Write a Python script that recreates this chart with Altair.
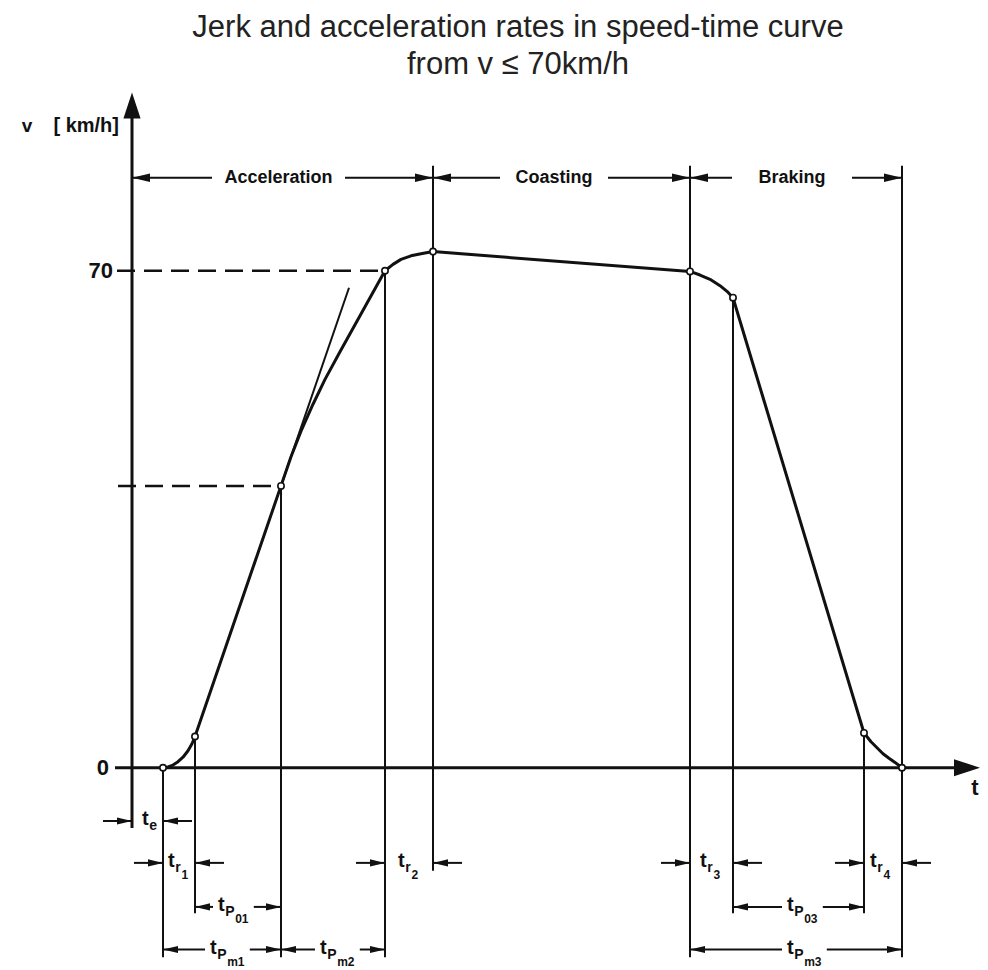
import altair as alt
import pandas as pd

# ------------------------------------------------------------------
# DATA  (time in arbitrary units, speed in km/h)
# ------------------------------------------------------------------
TITLE = ["Jerk and acceleration rates in speed-time curve", "from v \u2264 70km/h"]

# speed-time curve, points
curve_t = [3.1, 3.6, 4.1, 4.6, 5.1, 5.6, 6.0, 6.3,
           14.9, 15.9, 16.9, 18.1, 19.3, 20.8, 22.3, 23.8, 25.3,
           26.1, 26.9, 27.9, 28.9, 30.1,
           55.8, 56.8, 57.8, 58.8, 59.5, 60.1,
           73.2, 73.9, 74.5, 75.1, 75.7, 76.3, 77.0]
curve_v = [0.0, 0.11, 0.38, 0.85, 1.48, 2.39, 3.38, 4.4,
           39.7, 43.8, 47.4, 51.2, 54.7, 58.6, 62.4, 66.2, 70.0,
           70.9, 71.6, 72.1, 72.4, 72.7,
           69.9, 69.4, 68.8, 67.9, 67.1, 66.2,
           4.9, 3.66, 2.82, 1.97, 1.34, 0.75, 0.0]

# marked instants on the curve (small circles)
mark_t = [3.1, 6.3, 14.9, 25.3, 30.1, 55.8, 60.1, 73.2, 77.0]
mark_v = [0.0, 4.4, 39.7, 70.0, 72.7, 69.9, 66.2, 4.9, 0.0]

# tangent to the constant-acceleration part
tangent_t = [14.9, 21.7]
tangent_v = [39.7, 67.6]

# vertical extension lines: time, upper end, lower end
vert_t = [3.1, 6.3, 14.9, 25.3, 30.1, 55.8, 60.1, 73.2, 77.0]
vert_top = [0.0, 4.4, 39.7, 70.0, 84.8, 84.8, 66.2, 4.9, 84.8]
vert_bot = [-26.7, -20.5, -26.7, -26.7, -14.5, -26.7, -20.5, -20.5, -26.7]

# dashed reference speeds
ref_v = [70.0, 39.7]
ref_from = [-1.5, -1.4]
ref_to = [25.3, 14.9]

# y axis tick labels
tick_labels = ["70", "0"]
tick_v = [70.0, 0.0]

# levels (in speed units) of the dimension rows: top row, then rows below the axis
row_v = [83.1, -7.5, -13.4, -19.6, -25.6]

# phases shown on the top row
phase_names = ["Acceleration", "Coasting", "Braking"]
phase_start = [0.0, 30.1, 55.8]
phase_end = [30.1, 55.8, 77.0]
phase_gap_lo = [8.0, 36.8, 60.0]
phase_gap_hi = [21.3, 47.6, 72.0]

# time intervals below the axis: t_{sub_{subsub}}
iv_sub = ["e", "r", "r", "r", "r", "P", "P", "P", "P", "P"]
iv_subsub = ["", "1", "2", "3", "4", "01", "03", "m1", "m2", "m3"]
iv_start = [0.0, 3.1, 25.3, 55.8, 73.2, 6.3, 60.1, 3.1, 14.9, 55.8]
iv_end = [3.1, 6.3, 30.1, 60.1, 77.0, 14.9, 73.2, 14.9, 25.3, 77.0]
iv_row = [1, 2, 2, 2, 2, 3, 3, 4, 4, 4]
iv_kind = ["outer"] * 5 + ["inner"] * 5
iv_label = [1.0, 3.6, 26.6, 56.8, 73.8, 8.6, 65.5, 7.8, 18.8, 65.5]

# ------------------------------------------------------------------
# LAYOUT / STYLE
# ------------------------------------------------------------------
INK = "#111111"
FONT = "Liberation Sans"
T_MIN, T_MAX = -12.4, 84.8          # 972 px wide -> 10 px per time unit
PX_PER_V = 7.1
PAD_TOP = 4
PLOT_TOP = 84                       # page y of plot top (below the title)
PLOT_H = 962 - PLOT_TOP
V_MIN = -27.5
V_MAX = V_MIN + PLOT_H / PX_PER_V

ARROW = "M0,0L-1,-0.24L-1,0.24Z"
AXIS_ARROW = "M0,0L-1,-0.33L-1,0.33Z"

XS = alt.Scale(domain=[T_MIN, T_MAX], nice=False, zero=False)
YS = alt.Scale(domain=[V_MIN, V_MAX], nice=False, zero=False)


def X(f="t"):
    return alt.X(f"{f}:Q", scale=XS, axis=None)


def Y(f="v"):
    return alt.Y(f"{f}:Q", scale=YS, axis=None)


# ------------------------------------------------------------------
# derived tables
# ------------------------------------------------------------------
curve_df = pd.DataFrame({"t": curve_t, "v": curve_v})
marks_df = pd.DataFrame({"t": mark_t, "v": mark_v})

shade_rows = []
for seg, (a, b) in enumerate([(3.1, 6.3), (73.2, 77.0)]):
    for t, v in zip(curve_t, curve_v):
        if a <= t <= b:
            shade_rows.append({"t": t, "v": v, "z": 0.0, "seg": seg})
shade_df = pd.DataFrame(shade_rows)

vert_df = pd.DataFrame({"t": vert_t, "v": vert_top, "v2": vert_bot})
ref_df = pd.DataFrame({"t": ref_from, "t2": ref_to, "v": ref_v})
tan_df = pd.DataFrame({"t": [tangent_t[0]], "t2": [tangent_t[1]],
                       "v": [tangent_v[0]], "v2": [tangent_v[1]]})

axis_df = pd.DataFrame([
    {"t": 0.0, "t2": 0.0, "v": -8.5, "v2": 92.0},     # speed axis
    {"t": -1.7, "t2": 82.5, "v": 0.0, "v2": 0.0},     # time axis
])
axis_heads = pd.DataFrame([
    {"t": 0.0, "v": 95.1, "ang": 270},
    {"t": T_MAX, "v": 0.0, "ang": 0},
])

# glyph widths (time units) for subscript layout
W_T = 0.72
W_SUB = {"e": 0.8, "r": 0.58, "P": 0.95}
W_SS = {"0": 0.68, "1": 0.68, "2": 0.68, "3": 0.68, "4": 0.68, "m": 1.08}
EXT = 2.9

segs, heads, base_lab, sub_lab, ss_lab = [], [], [], [], []
for sub, ss, s, e, r, kind, lab in zip(iv_sub, iv_subsub, iv_start, iv_end,
                                       iv_row, iv_kind, iv_label):
    y = row_v[r]
    sub_t = lab + W_T
    ss_t = sub_t + W_SUB[sub] + 0.05
    end_t = ss_t + sum(W_SS[c] for c in ss)
    base_lab.append({"t": lab, "v": y, "txt": "t"})
    sub_lab.append({"t": sub_t, "v": y, "txt": sub})
    if ss:
        ss_lab.append({"t": ss_t, "v": y, "txt": ss})
    if kind == "outer":
        segs += [{"t": s - EXT, "t2": s, "v": y}, {"t": e + EXT, "t2": e, "v": y}]
        heads += [{"t": s, "v": y, "ang": 0}, {"t": e, "v": y, "ang": 180}]
    else:
        segs += [{"t": s, "t2": lab - 0.5, "v": y}, {"t": end_t + 0.5, "t2": e, "v": y}]
        heads += [{"t": s, "v": y, "ang": 180}, {"t": e, "v": y, "ang": 0}]

top_segs, top_heads, phase_lab = [], [], []
for n, s, e, lo, hi in zip(phase_names, phase_start, phase_end, phase_gap_lo, phase_gap_hi):
    y = row_v[0]
    top_segs += [{"t": s, "t2": lo, "v": y}, {"t": hi, "t2": e, "v": y}]
    top_heads += [{"t": s, "v": y, "ang": 180}, {"t": e, "v": y, "ang": 0}]
    phase_lab.append({"t": (lo + hi) / 2, "v": y, "txt": n})

segs_df = pd.DataFrame(segs + top_segs)
heads_df = pd.DataFrame(heads)
top_heads_df = pd.DataFrame(top_heads)
phase_df = pd.DataFrame(phase_lab)
base_df = pd.DataFrame(base_lab)
sub_df = pd.DataFrame(sub_lab)
ss_df = pd.DataFrame(ss_lab)
ticks_df = pd.DataFrame({"t": [-1.9, -2.3], "v": tick_v, "txt": tick_labels})
ylab_df = pd.DataFrame({"t": [-10.5], "v": [90.4], "txt": ["v"]})
yunit_df = pd.DataFrame({"t": [-1.3], "v": [90.4], "txt": ["[ km/h]"]})
tlab_df = pd.DataFrame({"t": [84.3], "v": [-2.8], "txt": ["t"]})

# ------------------------------------------------------------------
# LAYERS
# ------------------------------------------------------------------
shade = alt.Chart(shade_df).mark_area(color="#ebebeb").encode(
    x=X(), y=Y(), y2="z:Q", detail="seg:N", order="t:Q")

verticals = alt.Chart(vert_df).mark_rule(color=INK, strokeWidth=2).encode(
    x=X(), y=Y(), y2="v2:Q")

refs = alt.Chart(ref_df).mark_rule(color=INK, strokeWidth=2.5, strokeDash=[18, 9]).encode(
    x=X(), x2="t2:Q", y=Y())

axes = alt.Chart(axis_df).mark_rule(color=INK, strokeWidth=3).encode(
    x=X(), x2="t2:Q", y=Y(), y2="v2:Q")

curve = alt.Chart(curve_df).mark_line(color=INK, strokeWidth=3, strokeJoin="round").encode(
    x=X(), y=Y(), order="t:Q")

tangent = alt.Chart(tan_df).mark_rule(color=INK, strokeWidth=2).encode(
    x=X(), x2="t2:Q", y=Y(), y2="v2:Q")

dims = alt.Chart(segs_df).mark_rule(color=INK, strokeWidth=2).encode(
    x=X(), x2="t2:Q", y=Y())

small_heads = alt.Chart(heads_df).mark_point(
    shape=ARROW, size=900, filled=True, opacity=1, color=INK, strokeWidth=0).encode(
    x=X(), y=Y(), angle=alt.Angle("ang:Q", scale=None))

big_heads = alt.Chart(top_heads_df).mark_point(
    shape=ARROW, size=1296, filled=True, opacity=1, color=INK, strokeWidth=0).encode(
    x=X(), y=Y(), angle=alt.Angle("ang:Q", scale=None))

ax_heads = alt.Chart(axis_heads).mark_point(
    shape=AXIS_ARROW, size=2704, filled=True, opacity=1, color=INK, strokeWidth=0).encode(
    x=X(), y=Y(), angle=alt.Angle("ang:Q", scale=None))

circles = alt.Chart(marks_df).mark_point(
    shape="circle", size=40, filled=True, fill="white", stroke=INK, strokeWidth=1.6,
    opacity=1).encode(x=X(), y=Y())


def text_layer(df, size, align="left", dy=0, weight="bold"):
    return alt.Chart(df).mark_text(
        font=FONT, fontSize=size, fontWeight=weight, color=INK, align=align,
        baseline="middle", dy=dy).encode(x=X(), y=Y(), text="txt:N")


phase_text = text_layer(phase_df, 18, align="center")
base_text = text_layer(base_df, 20, dy=-2)
sub_text = text_layer(sub_df, 14, dy=5)
ss_text = text_layer(ss_df, 12, dy=12)
tick_text = text_layer(ticks_df, 22, align="right")
ylab_text = text_layer(ylab_df, 19, align="center")
yunit_text = text_layer(yunit_df, 20, align="right")
tlab_text = text_layer(tlab_df, 22, align="center")

chart = alt.layer(
    shade, verticals, refs, axes, curve, tangent, dims,
    small_heads, big_heads, ax_heads, circles,
    phase_text, base_text, sub_text, ss_text, tick_text, ylab_text, yunit_text, tlab_text,
).properties(
    width=972,
    height=PLOT_H,
    padding={"top": PAD_TOP, "left": 0, "right": 0, "bottom": 0},
    title=alt.TitleParams(text=TITLE, font=FONT, fontSize=31, fontWeight="normal",
                          color="#222222", lineHeight=37, anchor="middle", offset=4,
                          dx=24),
).configure_view(strokeWidth=0)

chart.save("out.html", embed_options={"renderer": "svg", "actions": False})
